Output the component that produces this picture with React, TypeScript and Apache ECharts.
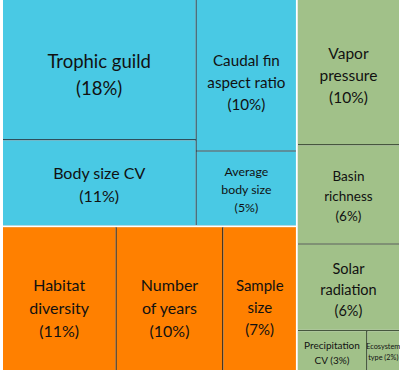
import React, { useEffect, useRef } from "react";
import * as echarts from "echarts";

// ---- data ----
const groupNames = ["Fish traits", "Study design", "Environment"];
const groupColors = ["#49C9E4", "#FF8000", "#A1C189"];
const groupLineColors = ["#2E4F5C", "#3A2A18", "#46573E"];

const leafNames = [
  "Trophic guild",
  "Body size CV",
  "Caudal fin aspect ratio",
  "Average body size",
  "Habitat diversity",
  "Number of years",
  "Sample size",
  "Vapor pressure",
  "Basin richness",
  "Solar radiation",
  "Precipitation CV",
  "Ecosystem type",
];
const leafGroup = [0, 0, 0, 0, 1, 1, 1, 2, 2, 2, 2, 2];
// relative areas
const leafValues = [18.4, 11.3, 10.3, 5.1, 11.1, 10.4, 7.2, 10.1, 6.9, 6.0, 1.9, 0.9];
// percentages printed in the labels
const leafPercents = [18, 11, 10, 5, 11, 10, 7, 10, 6, 6, 3, 2];

// ---- label styling (not data) ----
const labelWrap: Record<string, string> = {
  "Trophic guild": "Trophic guild\n",
  "Body size CV": "Body size CV\n",
  "Caudal fin aspect ratio": "Caudal fin\naspect ratio\n",
  "Average body size": "Average\nbody size\n",
  "Habitat diversity": "Habitat\ndiversity\n",
  "Number of years": "Number\nof years\n",
  "Sample size": "Sample\nsize\n",
  "Vapor pressure": "Vapor\npressure\n",
  "Basin richness": "Basin\nrichness\n",
  "Solar radiation": "Solar\nradiation\n",
  "Precipitation CV": "Precipitation\nCV ",
  "Ecosystem type": "Ecosystem\ntype ",
};
const labelSize: Record<string, number> = {
  "Trophic guild": 18.5,
  "Body size CV": 16,
  "Caudal fin aspect ratio": 15.2,
  "Average body size": 12.3,
  "Habitat diversity": 16,
  "Number of years": 16,
  "Sample size": 15,
  "Vapor pressure": 15.5,
  "Basin richness": 13.5,
  "Solar radiation": 14.5,
  "Precipitation CV": 10,
  "Ecosystem type": 7.3,
};
const labelShift: Record<string, number> = {
  "Trophic guild": 5,
  "Body size CV": 1.5,
  "Caudal fin aspect ratio": 6.5,
  "Average body size": 1,
  "Habitat diversity": 8.5,
  "Number of years": 8.5,
  "Sample size": 8.5,
  "Vapor pressure": 3,
  "Basin richness": 1.5,
  "Solar radiation": 2,
  "Precipitation CV": 1.5,
  "Ecosystem type": 1,
};

export default function App() {
  const ref = useRef<HTMLDivElement>(null);

  useEffect(() => {
    if (!ref.current) return;
    const chart = echarts.init(ref.current, null, { renderer: "svg" });

    const data = groupNames.map((g, gi) => ({
      name: g,
      itemStyle: { color: groupColors[gi], borderColor: groupLineColors[gi] },
      label: { show: false },
      children: leafNames
        .map((n, i) => ({ n, i }))
        .filter(({ i }) => leafGroup[i] === gi)
        .map(({ n, i }) => {
          const fs = labelSize[n];
          return {
            name: n,
            value: leafValues[i],
            pct: leafPercents[i],
            itemStyle: { color: groupColors[gi] },
            label: {
              fontSize: fs,
              lineHeight: Math.round(fs * 1.45),
              offset: [0, labelShift[n]],
            },
          };
        }),
    }));

    chart.setOption({
      animation: false,
      series: [
        {
          type: "treemap",
          left: 3,
          top: 0,
          width: 396,
          height: 370,
          roam: false,
          nodeClick: false,
          silent: true,
          squareRatio: 1.3,
          breadcrumb: { show: false },
          data,
          label: {
            show: true,
            position: "inside",
            align: "center",
            verticalAlign: "middle",
            color: "#111",
            fontFamily: "Lato, 'Open Sans', sans-serif",
            overflow: "none",
            padding: 0,
            formatter: (p: any) => {
              const d = p.data || {};
              return `${labelWrap[p.name] ?? p.name}(${d.pct}%)`;
            },
          },
          upperLabel: { show: false },
          levels: [
            {
              itemStyle: { borderWidth: 0, gapWidth: 2, borderColor: "#ffffff" },
            },
            {
              itemStyle: { borderWidth: 0, gapWidth: 1.5 },
            },
            {
              itemStyle: { borderWidth: 0, gapWidth: 0 },
            },
          ],
        },
      ],
    });

    return () => chart.dispose();
  }, []);

  return (
    <div
      ref={ref}
      style={{ position: "absolute", left: 0, top: 0, width: 400, height: 372, background: "#fff" }}
    />
  );
}
